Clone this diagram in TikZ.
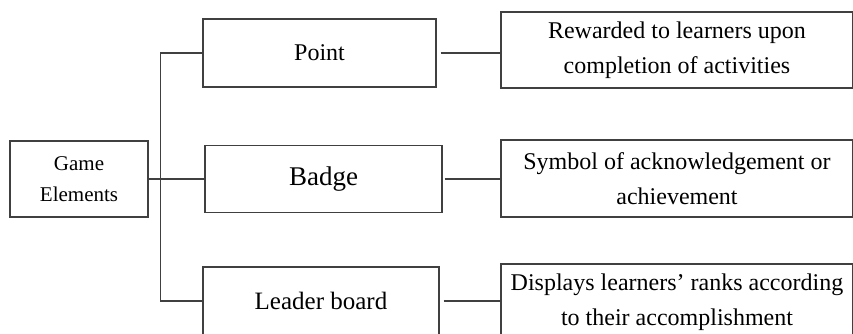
\documentclass[tikz,border=0pt]{standalone}
\usepackage{fontspec}
\setmainfont{Liberation Serif}
\usetikzlibrary{positioning}
\tikzset{
  box/.style={draw=black!75, line width=0.6pt, inner sep=0pt, align=center},
  link/.style={draw=black!75, line width=0.6pt},
}

\begin{document}
\begin{tikzpicture}[x=0.5pt, y=-0.5pt]
\clip (0,0) rectangle (853,333);
% root
\node[box, minimum width=69pt, minimum height=38pt, font=\fontsize{10.5}{15.5}\selectfont] (game) at (79,179) {Game\\Elements};
% elements
\node[box, minimum width=116.5pt, minimum height=34pt, font=\fontsize{12}{14}\selectfont] (point) at (319.5,53) {Point};
\node[box, minimum width=118.5pt, minimum height=33.5pt, font=\fontsize{13.5}{16}\selectfont] (badge) at (323.5,179) {Badge};
\node[box, minimum width=118pt, minimum height=34pt, font=\fontsize{12.5}{15}\selectfont] (leader) at (321,301) {Leader board};
% descriptions
\node[box, minimum width=176pt, minimum height=38pt, font=\fontsize{12}{17.5}\selectfont] (pointtxt) at (677,50) {Rewarded to learners upon\\completion of activities};
\node[box, minimum width=176pt, minimum height=38.5pt, font=\fontsize{12}{17.5}\selectfont] (badgetxt) at (677,178.5) {Symbol of acknowledgement or\\achievement};
\node[box, minimum width=176pt, minimum height=38.5pt, font=\fontsize{12}{17.5}\selectfont] (leadertxt) at (677,302.5) {Displays learners' ranks according\\to their accomplishment};
% tree lines
\coordinate (hub) at ([xshift=6pt]game.east);
\draw[link] (game.east) -- (badge.west);
\draw[link] (hub) |- (point.west);
\draw[link] (hub) |- (leader.west);
\draw[link, shorten <=2pt] (point.east) -- (point.east -| pointtxt.west);
\draw[link, shorten <=1pt] (badge.east) -- (badge.east -| badgetxt.west);
\draw[link, shorten <=2pt] (leader.east) -- (leader.east -| leadertxt.west);
\end{tikzpicture}
\end{document}
